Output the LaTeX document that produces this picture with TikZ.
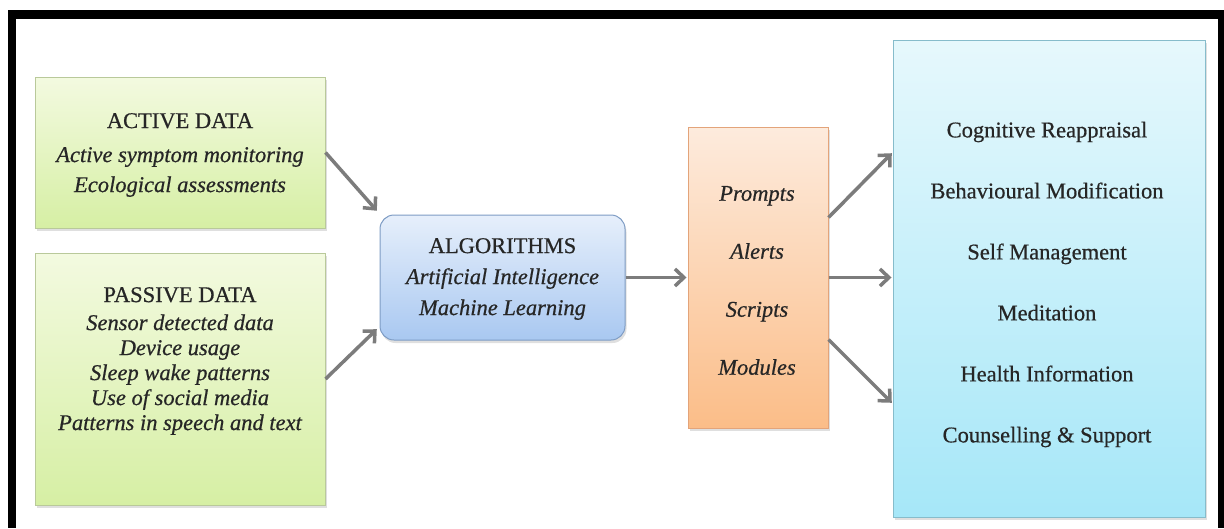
\documentclass[tikz,border=0pt]{standalone}
\usepackage{fontspec}
\setmainfont{Liberation Serif}[UprightFeatures={FakeBold=0.6},ItalicFeatures={FakeBold=0.6}]
\usetikzlibrary{arrows.meta,shadows}
\definecolor{txt}{HTML}{262626}
\definecolor{arrowgray}{HTML}{7C7C7C}
\definecolor{greentop}{HTML}{F3FAE0}
\definecolor{greenbot}{HTML}{D6EFA4}
\definecolor{greenline}{HTML}{B9C99A}
\definecolor{algotop}{HTML}{E6EFFB}
\definecolor{algobot}{HTML}{A9C8F1}
\definecolor{algoline}{HTML}{7E9CC4}
\definecolor{orangetop}{HTML}{FDEBDD}
\definecolor{orangebot}{HTML}{FBBD88}
\definecolor{orangeline}{HTML}{E3A47A}
\definecolor{cyantop}{HTML}{E6F8FC}
\definecolor{cyanbot}{HTML}{A6E7F8}
\definecolor{cyanline}{HTML}{86BCCB}
\tikzset{
  boxbase/.style={draw, line width=1pt, inner sep=0pt,
    drop shadow={opacity=0.25, shadow xshift=1.5pt, shadow yshift=-3pt}},
  greenbox/.style={boxbase, draw=greenline, top color=greentop, bottom color=greenbot},
  algobox/.style={boxbase, draw=algoline, rounded corners=14pt, top color=algotop, bottom color=algobot},
  orangebox/.style={boxbase, draw=orangeline, top color=orangetop, bottom color=orangebot},
  cyanbox/.style={boxbase, draw=cyanline, top color=cyantop, bottom color=cyanbot},
  lbl/.style={text=txt, align=center, inner sep=0pt},
  flow/.style={draw=arrowgray, line width=3.5pt,
    -{Straight Barb[length=9pt,width=17pt,line width=3.5pt]}, shorten >=1pt},
}
\begin{document}
\begin{tikzpicture}[x=1pt,y=-1pt]
\useasboundingbox (0,0) rectangle (1224,528);
% frame
\fill[black] (8,10) rectangle (16,528);
\fill[black] (8,10) rectangle (1224,19);
\fill[black] (1218,10) rectangle (1224,528);
% boxes
\node[greenbox, minimum width=290pt, minimum height=151pt] (act) at (180,152.5) {};
\node[greenbox, minimum width=290pt, minimum height=252pt] (pas) at (180,379) {};
\node[algobox, minimum width=245pt, minimum height=125pt] (algo) at (502.5,277.5) {};
\node[orangebox, minimum width=140pt, minimum height=301pt] (out) at (758,277.5) {};
\node[cyanbox, minimum width=312pt, minimum height=477pt] (res) at (1049,278.5) {};
% texts
\node[lbl, font=\fontsize{22.5}{30}\selectfont] (acttxt) at (180,155)
  {ACTIVE DATA\\[4pt]\itshape Active symptom monitoring\\\itshape Ecological assessments};
\node[lbl, font=\fontsize{22.5}{25}\selectfont] (pastxt) at (180,361)
  {PASSIVE DATA\\[3pt]\itshape Sensor detected data\\\itshape Device usage\\\itshape Sleep wake patterns\\\itshape Use of social media\\\itshape Patterns in speech and text};
\node[lbl, font=\fontsize{22.5}{31}\selectfont] (algotxt) at (502.5,279)
  {ALGORITHMS\\\itshape Artificial Intelligence\\\itshape Machine Learning};
\node[lbl, font=\fontsize{22.5}{58}\selectfont\itshape] (outtxt) at (757,280.5)
  {Prompts\\Alerts\\Scripts\\Modules};
\node[lbl, font=\fontsize{22.5}{61}\selectfont] (restxt) at (1047,284.5)
  {Cognitive Reappraisal\\Behavioural Modification\\Self Management\\Meditation\\Health Information\\Counselling \& Support};
% connectors
\draw[flow] (act.east) -- ([xshift=-2pt,yshift=3pt]algo.north west);
\draw[flow] (pas.east) -- ([xshift=-2pt,yshift=12pt]algo.south west);
\draw[flow] (algo.east) -- (out.west);
\draw[flow] ([yshift=60pt]out.east) -- ([yshift=126pt]res.west);
\draw[flow] (out.east) -- ([yshift=1pt]res.west);
\draw[flow] ([yshift=-62pt]out.east) -- ([yshift=-125pt]res.west);
\end{tikzpicture}
\end{document}
